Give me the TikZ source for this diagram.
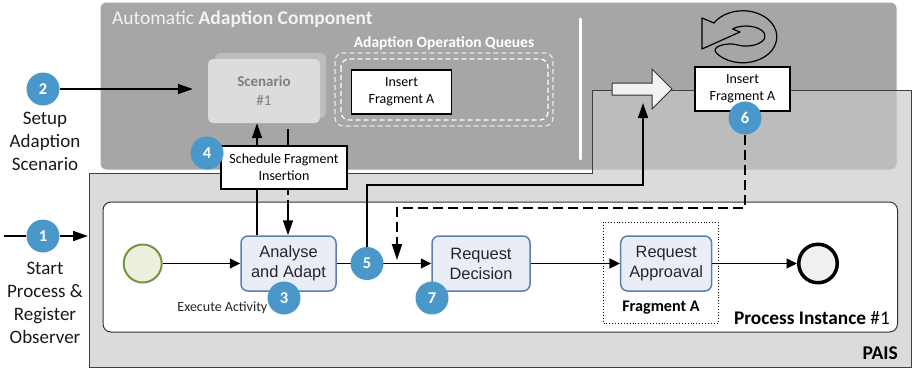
\documentclass[tikz,border=0pt]{standalone}
\usepackage{fontspec}
\setmainfont{Carlito}
\newfontfamily\arialfont{Liberation Sans}
\usetikzlibrary{arrows.meta,calc}
\pgfdeclarelayer{front}
\pgfsetlayers{main,front}

\definecolor{acgray}{HTML}{A6A6A6}
\definecolor{paisgray}{HTML}{C8C8C8}
\definecolor{stepblue}{HTML}{4A98C9}
\definecolor{taskfill}{HTML}{E9EDF6}
\definecolor{taskline}{HTML}{5B7FB5}
\definecolor{startfill}{HTML}{EBF1DE}
\definecolor{startline}{HTML}{77933C}
\definecolor{scenfill}{HTML}{DCDCDE}
\definecolor{scenshadow}{HTML}{BDBDBD}
\definecolor{scentext}{HTML}{7F7F7F}
\definecolor{blockfill}{HTML}{F2F2F2}

\tikzset{
  marker/.style={circle, fill=stepblue, text=white, inner sep=0pt,
    minimum size=33pt, font=\fontsize{16.5}{16}\selectfont\bfseries},
  task/.style={rectangle, rounded corners=7pt, draw=taskline, line width=1.5pt,
    fill=taskfill, minimum width=95pt, minimum height=55pt, align=center,
    text=black!85, font=\arialfont\fontsize{16.4}{20}\selectfont},
  opbox/.style={rectangle, draw=black, line width=1.2pt, fill=white,
    align=center, inner sep=0pt, font=\fontsize{14}{17}\selectfont},
  flow/.style={line width=1.5pt, -{Triangle[length=10.5pt,width=10pt]}},
  longarrow/.style={line width=1.6pt, -{Triangle[length=15pt,width=10pt]}},
  sidelabel/.style={align=center, inner sep=0pt, text=black!90,
    font=\fontsize{19}{23}\selectfont},
  queuedash/.style={dash pattern=on 5pt off 3pt, line width=1.2pt, rounded corners=8pt},
}

\begin{document}
\begin{tikzpicture}[x=1pt, y=-1pt]
\useasboundingbox (0,0) rectangle (912,370);

% ---------- adaption component ----------
\fill[acgray, rounded corners=6pt] (100,2) rectangle (897,170);
\draw[white, line width=1pt, rounded corners=6pt] (100,2) rectangle (897,170);
\node[anchor=base west, inner sep=0pt, text=white!95!black,
      font=\fontsize{19.5}{22}\selectfont] (actitle) at (112,24)
      {Automatic \textbf{Adaption Component}};

% scenario with its stacked copy
\fill[scenshadow, rounded corners=5pt] (215,53) rectangle (326,118);
\node[rectangle, rounded corners=5pt, fill=scenfill, minimum width=112pt,
      minimum height=64pt, align=center, text=scentext,
      font=\fontsize{15}{19}\selectfont] (scen) at (264,91)
      {\textbf{Scenario}\\\#1};

% operation queue
\node[inner sep=0pt, text=white, font=\bfseries\fontsize{15.5}{16}\selectfont]
      (qtitle) at (444,43) {Adaption Operation Queues};
\draw[queuedash, white!75!acgray] (335,53) rectangle (553,126);
\draw[queuedash, white] (341,59) rectangle (548,120);
\node[opbox, minimum width=100pt, minimum height=44pt] (qitem) at (401.5,92)
      {Insert\\Fragment A};

% separator
\draw[white, line width=3pt, line cap=round] (580,19) -- (580,159);

% ---------- PAIS ----------
\path[fill=paisgray, fill opacity=0.65, draw=black!75, line width=1pt]
  (89.5,173) -- (592,173) -- (592,90) -- (911,90) -- (911,367) -- (89.5,367) -- cycle;
\node[anchor=base east, inner sep=0pt, font=\bfseries\fontsize{19.5}{20}\selectfont]
      (paislabel) at (898,359.5) {PAIS};

% process instance
\draw[fill=white, draw=black!80, line width=1pt, rounded corners=8pt]
  (103,202) rectangle (897.5,332);
\node[anchor=base east, inner sep=0pt, font=\fontsize{19.3}{20}\selectfont]
      (pilabel) at (890,324) {\textbf{Process Instance} \#1};

% fragment A
\draw[dotted, line width=0.9pt] (603,222) rectangle (718,323);
\node[inner sep=0pt, font=\bfseries\fontsize{16.2}{18}\selectfont]
      (fraglabel) at (661,307.5) {Fragment A};

% ---------- step markers (kept in front) ----------
\begin{pgfonlayer}{front}
\node[marker] (m1) at (43,236) {1};
\node[marker] (m2) at (43,89) {2};
\node[marker] (m3) at (284,298) {3};
\node[marker] (m4) at (207,153) {4};
\node[marker] (m5) at (367,263.5) {5};
\node[marker] (m6) at (745,118) {6};
\node[marker] (m7) at (432,298) {7};
\end{pgfonlayer}

% ---------- process model ----------
\node[circle, draw=startline, fill=startfill, line width=2pt, minimum size=38pt,
      inner sep=0pt] (start) at (142.7,263.5) {};
\node[task] (analyse) at (288.5,263.5) {Analyse\\and Adapt};
\node[task, minimum width=98pt] (decide) at (481,263.5) {Request\\Decision};
\node[task, minimum width=91pt] (approve) at (666.2,263.5) {Request\\Approaval};
\node[circle, draw=black, line width=3.5pt, fill=black!6, minimum size=38.5pt,
      inner sep=0pt] (end) at (818,263.5) {};

\draw[flow] (start) -- (analyse);
\draw[flow] (analyse) -- (decide);
\draw[flow] (decide) -- (approve);
\draw[flow] (approve) -- (end);

\node[anchor=east, inner sep=0pt, text=black!85, font=\fontsize{14}{16}\selectfont]
      (execlbl) at (267.5,307.5) {Execute Activity};

% ---------- scheduling between instance and scenario ----------
\coordinate (upx) at (257,0);
\coordinate (dnx) at (288,0);
\coordinate (pitop) at (0,202);
\draw[longarrow] (analyse.north -| upx) -- (scen.south -| upx);
\node[opbox, minimum width=126pt, minimum height=43pt] (sched) at (284,167.5)
      {Schedule Fragment\\Insertion};
\draw[line width=1.6pt] ([yshift=-6pt]scen.south -| dnx) -- (sched.north -| dnx);
\draw[line width=1.6pt, dash pattern=on 5pt off 5pt] (sched.south -| dnx) -- (pitop -| dnx);
\draw[longarrow] (pitop -| dnx) -- (analyse.north -| dnx);

% ---------- execution of the queued operation ----------
\path[fill=blockfill, draw=black!80, line width=1pt, line join=miter]
  (612,83) -- (652,83) -- (652,69) -- (672,89) -- (652,109) -- (652,95) -- (612,95) -- cycle;
\node[opbox, minimum width=95pt, minimum height=44pt] (exec) at (742.5,89)
      {Insert\\Fragment A};

% repeat icon: notched head, outer sweep, rounded tail, inner sweep
\draw[line width=1.2pt, line join=round]
  (702,18) -- (714,23)
  arc[start angle=212, end angle=500, x radius=34, y radius=26]
  .. controls (709,46) and (728.5,42.3) .. (736.5,44.7)
  arc[start angle=120, end angle=-135, x radius=19, y radius=10]
  -- (740,32) -- (702,49) -- cycle;

\coordinate (c5up) at (0,185);
\coordinate (blockin) at (643,103);
\draw[longarrow] (m5.north) -- (m5.north |- c5up) -| (blockin);

\coordinate (dashrow) at (0,208);
\coordinate (dashdrop) at (397,260);
\draw[line width=2pt, dash pattern=on 10pt off 5pt,
      -{Triangle[length=16pt,width=10pt]}]
  (m6.south) -- (m6.south |- dashrow) -| (dashdrop);

% ---------- external steps ----------
\coordinate (feed) at (4,236);
\coordinate (paisin) at (88,236);
\draw[line width=1.6pt] (feed) -- (m1);
\draw[longarrow] (m1) -- (paisin);
\node[sidelabel] (lbl1) at (45,302.5) {Start\\Process \&\\Register\\Observer};

\draw[longarrow] (m2) -- ([xshift=-15pt]scen.west |- m2);
\node[sidelabel] (lbl2) at (45,141.5) {Setup\\Adaption\\Scenario};
\end{tikzpicture}
\end{document}
